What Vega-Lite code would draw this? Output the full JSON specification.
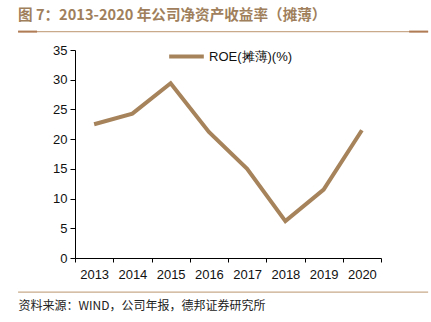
{
  "$schema": "https://vega.github.io/schema/vega-lite/v6.json",
  "autosize": "none",
  "width": 306,
  "height": 208,
  "padding": {"left": 75, "top": 50, "right": 50, "bottom": 64},
  "background": "white",
  "title": {
    "text": "图 7：2013-2020 年公司净资产收益率（摊薄）",
    "anchor": "start",
    "frame": "group",
    "dx": -57,
    "offset": 8,
    "font": "Noto Sans CJK SC",
    "fontSize": 14.6,
    "fontWeight": "bold",
    "color": "#a0805c"
  },
  "resolve": {"scale": {"x": "independent"}},
  "config": {
    "view": {"stroke": null},
    "axisY": {
      "title": null,
      "values": [0, 5, 10, 15, 20, 25, 30, 35],
      "labelFont": "Liberation Sans",
      "labelFontSize": 13,
      "labelColor": "#111111",
      "labelPadding": 3,
      "tickSize": 5,
      "tickColor": "#000000",
      "domainColor": "#000000",
      "grid": false
    }
  },
  "layer": [
    {
      "data": {
        "values": [
          {"year": "2013", "roe": 22.5, "series": "ROE(摊薄)(%)"},
          {"year": "2014", "roe": 24.3, "series": "ROE(摊薄)(%)"},
          {"year": "2015", "roe": 29.4, "series": "ROE(摊薄)(%)"},
          {"year": "2016", "roe": 21.2, "series": "ROE(摊薄)(%)"},
          {"year": "2017", "roe": 15.0, "series": "ROE(摊薄)(%)"},
          {"year": "2018", "roe": 6.2, "series": "ROE(摊薄)(%)"},
          {"year": "2019", "roe": 11.5, "series": "ROE(摊薄)(%)"},
          {"year": "2020", "roe": 21.5, "series": "ROE(摊薄)(%)"}
        ]
      },
      "mark": {"type": "line", "strokeWidth": 4, "strokeJoin": "miter"},
      "encoding": {
        "x": {
          "field": "year",
          "type": "ordinal",
          "bandPosition": 0.5,
          "scale": {"type": "band", "paddingInner": 0, "paddingOuter": 0},
          "axis": {
            "title": "资料来源：WIND，公司年报，德邦证券研究所",
            "titleAnchor": "start",
            "titleAlign": "left",
            "titleX": -57,
            "titleY": 47,
            "titleBaseline": "middle",
            "titleFont": "Noto Sans CJK SC",
            "titleFontSize": 12,
            "titleFontWeight": "normal",
            "titleColor": "#222222",
            "labelAngle": 0,
            "labelFont": "Liberation Sans",
            "labelFontSize": 13,
            "labelColor": "#111111",
            "labelPadding": 6,
            "tickBand": "extent",
            "tickSize": 4,
            "tickColor": "#000000",
            "domainColor": "#000000",
            "grid": false
          }
        },
        "y": {
          "field": "roe",
          "type": "quantitative",
          "scale": {"domain": [0, 35], "nice": false},
          "axis": {"values": [0, 5, 10, 15, 20, 25, 30, 35]}
        },
        "color": {
          "field": "series",
          "type": "nominal",
          "scale": {"range": ["#a6835b"]},
          "legend": {
            "title": null,
            "orient": "none",
            "legendX": 92,
            "legendY": -13,
            "symbolType": "stroke",
            "symbolSize": 1200,
            "symbolStrokeWidth": 4,
            "labelFont": "Liberation Sans",
            "labelFontSize": 13,
            "labelColor": "#111111",
            "labelOffset": 3
          }
        }
      }
    },
    {
      "data": {"values": [{}]},
      "mark": {"type": "rule", "strokeWidth": 1.2, "color": "#c9aa8a", "clip": false},
      "encoding": {
        "x": {"datum": -0.186, "type": "quantitative", "scale": {"domain": [0, 1]}, "axis": null},
        "x2": {"datum": 1.154},
        "y": {"datum": 38.1, "type": "quantitative", "axis": {"values": [0, 5, 10, 15, 20, 25, 30, 35]}}
      }
    },
    {
      "data": {"values": [{}]},
      "mark": {"type": "rule", "strokeWidth": 1.2, "color": "#c9aa8a", "clip": false},
      "encoding": {
        "x": {"datum": -0.186, "type": "quantitative", "scale": {"domain": [0, 1]}, "axis": null},
        "x2": {"datum": 1.154},
        "y": {"datum": -5.75, "type": "quantitative", "axis": {"values": [0, 5, 10, 15, 20, 25, 30, 35]}}
      }
    },
    {
      "data": {"values": [{"a": -0.186, "b": -0.124}, {"a": 1.092, "b": 1.154}]},
      "mark": {"type": "rule", "strokeWidth": 2, "color": "#b07c55", "clip": false},
      "encoding": {
        "x": {"field": "a", "type": "quantitative", "scale": {"domain": [0, 1]}, "axis": null},
        "x2": {"field": "b"},
        "y": {"datum": 38.1, "type": "quantitative", "axis": {"values": [0, 5, 10, 15, 20, 25, 30, 35]}}
      }
    }
  ]
}
